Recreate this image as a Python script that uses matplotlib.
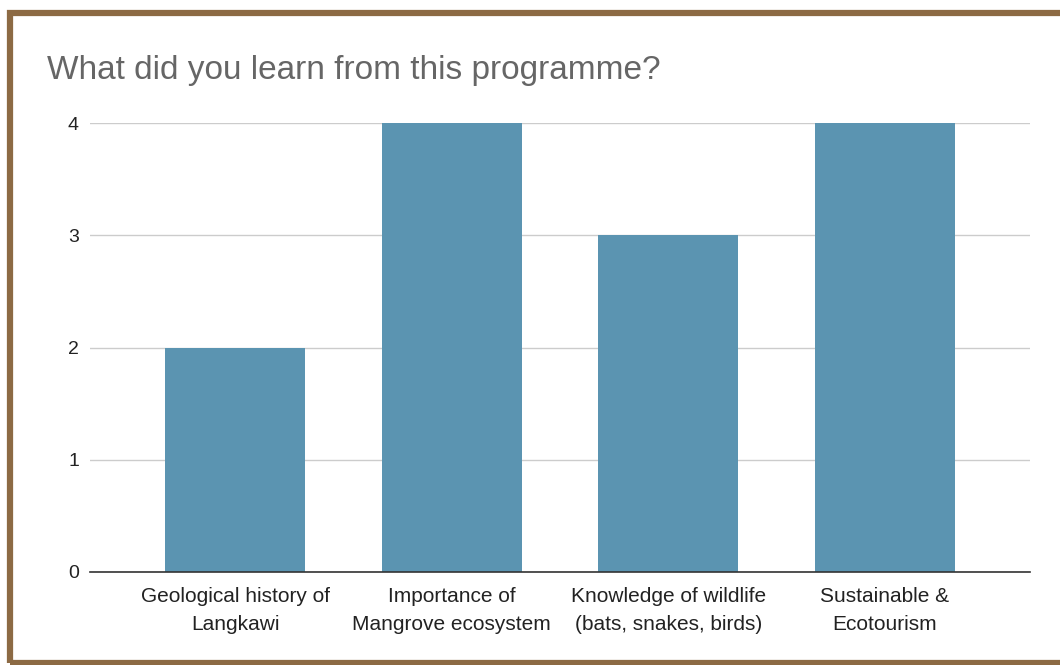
import matplotlib.pyplot as plt
from matplotlib.patches import Rectangle

categories = ['Geological history of\nLangkawi', 'Importance of\nMangrove ecosystem',
              'Knowledge of wildlife\n(bats, snakes, birds)', 'Sustainable &\nEcotourism']
counts = [2, 4, 3, 4]
yticks = [0, 1, 2, 3, 4]

plt.rcParams['font.family'] = ['Liberation Sans', 'DejaVu Sans']

fig = plt.figure(figsize=(10.6, 6.65), dpi=100)
W, H = 1060, 665

# brown frame around the card
fig.patches.append(Rectangle((9.5 / W, 2.5 / H), 1.1, 1 - 15 / H, transform=fig.transFigure,
                             fill=False, edgecolor='#8c6a44', linewidth=4.5))

ax = fig.add_axes([90 / W, 1 - 572 / H, (1030 - 90) / W, (572 - 123) / H])
x = range(len(categories))
ax.bar(x, counts, width=0.645, color='#5b94b1', zorder=2)
ax.set_xlim(-0.67, 3.67)
ax.set_ylim(0, 4)
ax.set_yticks(yticks)
ax.set_xticks(list(x))
ax.set_xticklabels(categories, fontsize=15, color='#222222', linespacing=1.55)
ax.tick_params(axis='y', labelsize=14, colors='#222222', length=0, pad=8)
ax.tick_params(axis='x', length=0, pad=11)
ax.grid(axis='y', color='#cccccc', linewidth=1, zorder=0)
for s in ['top', 'right', 'left']:
    ax.spines[s].set_visible(False)
ax.spines['bottom'].set_color('#333333')
ax.spines['bottom'].set_linewidth(1.2)
ax.spines['bottom'].set_zorder(3)

fig.text(47 / W, 1 - 70 / H, 'What did you learn from this programme?', fontsize=24,
         color='#666666', va='center', ha='left')

fig.savefig('out.png', dpi=100)
